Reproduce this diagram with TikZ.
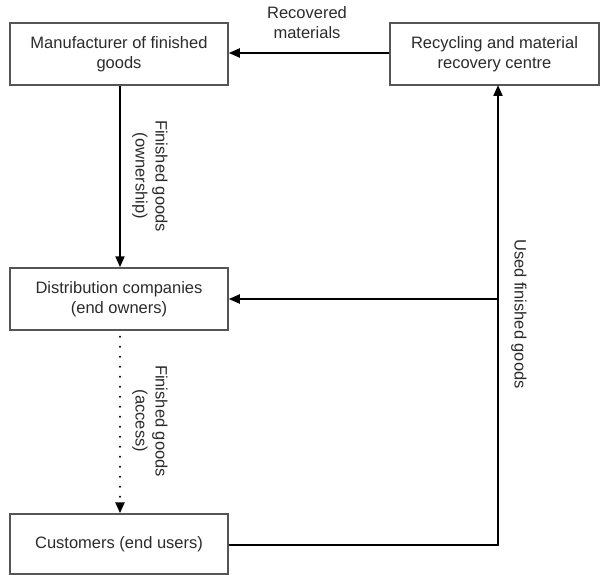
\documentclass[tikz,border=0pt]{standalone}
\usepackage{fontspec}
\setmainfont{Liberation Sans}
\usetikzlibrary{arrows.meta,calc}
\definecolor{inkgray}{HTML}{2B2B2B}
\definecolor{framegray}{HTML}{555555}
\tikzset{
  stage/.style={draw=framegray, line width=1.5pt, fill=white, rectangle,
    inner sep=0pt, align=center, text=inkgray,
    font=\fontsize{16.5pt}{20pt}\selectfont},
  flowlabel/.style={align=center, text=inkgray, inner sep=0pt,
    font=\fontsize{16.5pt}{20pt}\selectfont},
  flow/.style={draw=black, line width=2pt,
    -{Triangle[length=11pt,width=9pt]}},
  pathline/.style={draw=black, line width=2pt},
  dotflow/.style={draw=black, line width=2.4pt, line cap=round,
    dash pattern=on 0pt off 10pt,
    -{Triangle[length=11pt,width=9pt]}}
}
\begin{document}
\begin{tikzpicture}[x=1pt,y=1pt]
  \useasboundingbox (0,0) rectangle (600,-575);

  % stages of the goods cycle
  \node[stage, minimum width=218pt, minimum height=62pt] (man) at (119,-54)
    {Manufacturer of finished\\goods};
  \node[stage, minimum width=209pt, minimum height=62pt] (rec) at (494.5,-54)
    {Recycling and material\\recovery centre};
  \node[stage, minimum width=218pt, minimum height=62pt] (dist) at (119,-299)
    {Distribution companies\\(end owners)};
  \node[stage, minimum width=218pt, minimum height=60pt] (cust) at (119,-544)
    {Customers (end users)};

  % return path junctions
  \coordinate (corner) at (498,-545);
  \coordinate (split) at (498,-299);
  \coordinate (recin) at (498,-85);

  % connectors
  \draw[flow] (rec.west |- 0,-53) -- (man.east |- 0,-53);
  \draw[flow] (man.south -| 120,0) -- (dist.north -| 120,0);
  \draw[dotflow] ($(dist.south -| 120,0)+(0,-6)$) -- (cust.north -| 120,0);
  \draw[pathline] (cust.east |- corner) -- (corner) -- (split);
  \draw[flow] (split) -- (recin);
  \draw[flow] (split) -- (dist.east);

  % connector labels
  \node[flowlabel] (lrec) at (307,-23) {Recovered\\materials};
  \node[flowlabel, rotate=-90] (lown) at (150,-176)
    {Finished goods\\(ownership)};
  \node[flowlabel, rotate=-90] (lacc) at (150,-421)
    {Finished goods\\(access)};
  \node[flowlabel, rotate=-90] (lused) at (519,-314) {Used finished goods};
\end{tikzpicture}
\end{document}
